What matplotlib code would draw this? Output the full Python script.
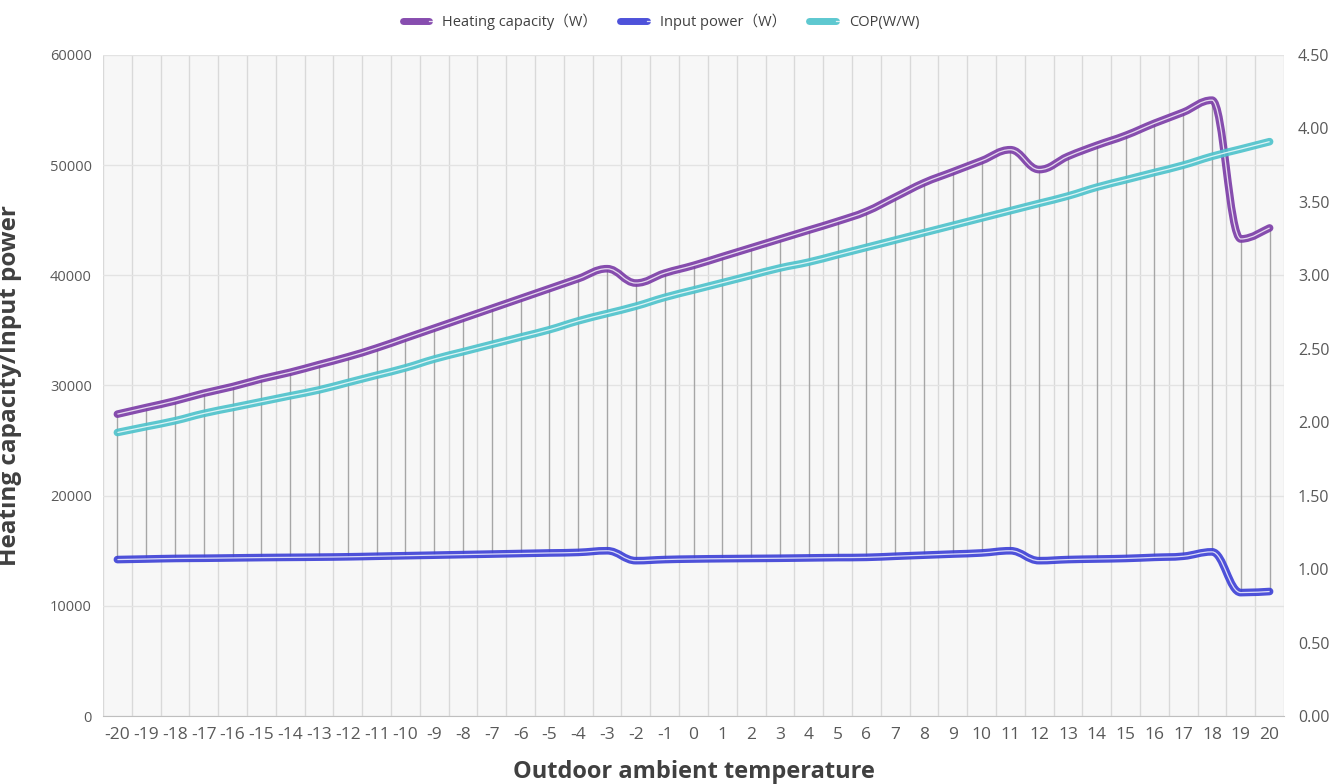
import numpy as np
import matplotlib
matplotlib.use('Agg')
from matplotlib import pyplot as plt
from matplotlib.path import Path
from matplotlib.patches import PathPatch
from matplotlib.lines import Line2D
from matplotlib.legend_handler import HandlerTuple

plt.rcParams['font.family'] = ['Open Sans', 'Noto Sans CJK SC', 'DejaVu Sans']

temps = list(range(-20, 21))
heating = [27400, 28000, 28600, 29300, 29900, 30600, 31200, 31900, 32600, 33400,
           34300, 35200, 36100, 37000, 37900, 38800, 39700, 40600, 39300, 40200,
           40900, 41700, 42500, 43300, 44100, 44900, 45800, 47100, 48400, 49400,
           50400, 51400, 49600, 50800, 51800, 52700, 53800, 54800, 55900, 43300, 44300]
power = [14200, 14250, 14300, 14320, 14350, 14380, 14400, 14420, 14450, 14500,
         14550, 14600, 14650, 14700, 14750, 14800, 14850, 15000, 14100, 14200,
         14250, 14280, 14300, 14320, 14350, 14380, 14400, 14500, 14600, 14700,
         14800, 15000, 14100, 14200, 14250, 14300, 14400, 14500, 14900, 11200, 11300]
cop = [1.93, 1.97, 2.01, 2.06, 2.10, 2.14, 2.18, 2.22, 2.27, 2.32,
       2.37, 2.43, 2.48, 2.53, 2.58, 2.63, 2.69, 2.74, 2.79, 2.85,
       2.90, 2.95, 3.00, 3.05, 3.09, 3.14, 3.19, 3.24, 3.29, 3.34,
       3.39, 3.44, 3.49, 3.54, 3.60, 3.65, 3.70, 3.75, 3.81, 3.86, 3.91]

labels = ['Heating capacity（W）', 'Input power（W）', 'COP(W/W)']
colors = ['#7a3aa6', '#3b3fd6', '#4cc2cb']

x = np.arange(len(temps))


def smooth_path(xs, ys, k=0.2):
    # smoothed line: bezier segments, flat tangent at peaks so it does not overshoot
    pts = np.column_stack([xs, ys]).astype(float)
    n = len(pts)
    tang = []
    for i in range(n):
        p0 = pts[max(i - 1, 0)]
        p2 = pts[min(i + 1, n - 1)]
        t = (p2 - p0) * k
        if 0 < i < n - 1 and (pts[i][1] - p0[1]) * (p2[1] - pts[i][1]) <= 0:
            t[1] = 0
        tang.append(t)
    verts = [pts[0]]
    codes = [Path.MOVETO]
    for i in range(n - 1):
        verts += [pts[i] + tang[i], pts[i + 1] - tang[i + 1], pts[i + 1]]
        codes += [Path.CURVE4] * 3
    return Path(verts, codes)


def draw_series(ax, ys, color):
    ax.add_patch(PathPatch(smooth_path(x, ys), facecolor='none', edgecolor=color,
                           lw=5.5, capstyle='round', joinstyle='round', zorder=4, alpha=0.9))
    ax.add_patch(PathPatch(smooth_path(x, ys), facecolor='none', edgecolor='white',
                           lw=0.9, alpha=0.8, zorder=5))


fig = plt.figure(figsize=(13.3, 7.84), dpi=100)
ax = fig.add_axes([103 / 1330, 1 - 716 / 784, 1181 / 1330, 661 / 784])
ax2 = ax.twinx()

ax.set_facecolor('#f7f7f7')
ax.set_xlim(-0.5, len(temps) - 0.5)
ax.set_ylim(0, 60000)
ax2.set_ylim(0, 4.5)

# high-low lines between the series
ax.vlines(x, power, heating, color='#a6a6a6', lw=1, zorder=2)

draw_series(ax, heating, colors[0])
draw_series(ax, power, colors[1])
draw_series(ax2, cop, colors[2])

ax.set_xticks(x)
ax.set_xticklabels([str(t) for t in temps])
ax.set_xticks(np.arange(-0.5, len(temps)), minor=True)
ax.set_yticks(np.arange(0, 60001, 10000))
ax.set_yticklabels([str(v) for v in range(0, 60001, 10000)])
ax2.set_yticks(np.arange(0, 4.51, 0.5))
ax2.set_yticklabels(['%.2f' % v for v in np.arange(0, 4.51, 0.5)])

ax.grid(axis='x', which='minor', color='#d9d9d9', lw=1)
ax.grid(axis='y', which='major', color='#e3e3e3', lw=1)
ax.set_axisbelow(True)

for a in (ax, ax2):
    for s in a.spines.values():
        s.set_visible(False)
    a.tick_params(which='both', length=0, colors='#595959')
ax.spines['bottom'].set_visible(True)
ax.spines['bottom'].set_color('#bfbfbf')
ax.tick_params(axis='x', labelsize=12.5, pad=8)
ax.tick_params(axis='y', labelsize=10.5, pad=8)
ax2.tick_params(axis='y', labelsize=11.5, pad=10)

ax.set_xlabel('Outdoor ambient temperature', fontsize=17, fontweight='bold',
              color='#404040', labelpad=12)
ax.set_ylabel('Heating capacity/Input power', fontsize=17.5, fontweight='bold',
              color='#404040', labelpad=20)

handles = []
for c in colors:
    handles.append((Line2D([], [], color=c, lw=5, alpha=0.9, solid_capstyle='round'),
                    Line2D([], [], color='white', lw=0.9, alpha=0.8)))
fig.legend(handles, labels, handler_map={tuple: HandlerTuple(ndivide=None, pad=0)},
           loc='upper center', bbox_to_anchor=(0.497, 1.0), ncol=3, frameon=False,
           fontsize=10.5, handlelength=3.6, handletextpad=-0.9, columnspacing=1.6,
           labelcolor='#404040')

fig.savefig('out.png', dpi=100)
